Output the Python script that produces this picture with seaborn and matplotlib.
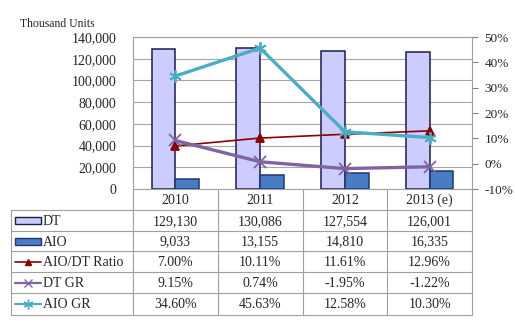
import matplotlib
matplotlib.use('Agg')
import matplotlib.pyplot as plt
import seaborn as sns
import pandas as pd
from matplotlib.patches import Rectangle
from matplotlib.lines import Line2D

years = ['2010', '2011', '2012', '2013 (e)']
dt_units = [129130, 130086, 127554, 126001]
aio_units = [9033, 13155, 14810, 16335]
aio_dt_ratio = [7.00, 10.11, 11.61, 12.96]
dt_gr = [9.15, 0.74, -1.95, -1.22]
aio_gr = [34.60, 45.63, 12.58, 10.30]
left_ticks = list(range(0, 140001, 20000))
right_ticks = list(range(-10, 51, 10))
unit_label = 'Thousand Units'

bar_series = ['DT', 'AIO']
line_series = ['AIO/DT Ratio', 'DT GR', 'AIO GR']
bar_fill = ['#CCCCFF', '#4A7CC4']
bar_edge = ['#1C1C48', '#1F3770']
line_colors = ['#8B0000', '#8064A2', '#4BACC6']
line_markers = ['^', 'x', (6, 2, 0)]
line_widths = [1.2, 2.4, 2.4]
marker_sizes = [6, 8, 9]

sns.set_theme(style='white')
plt.rcParams['font.family'] = ['Liberation Serif', 'DejaVu Serif']
plt.rcParams['axes.unicode_minus'] = False

W, H = 515, 330
fig = plt.figure(figsize=(W / 100, H / 100), dpi=100)
L, R, T, B = 133, 472, 37, 189
ax = fig.add_axes([L / W, 1 - B / H, (R - L) / W, (B - T) / H])

bars = pd.DataFrame({'Year': years * 2,
                     'Units': dt_units + aio_units,
                     'Series': ['DT'] * 4 + ['AIO'] * 4})
sns.barplot(data=bars, x='Year', y='Units', hue='Series', hue_order=bar_series,
            palette=bar_fill, width=0.56, linewidth=1.1, saturation=1,
            ax=ax, legend=False, errorbar=None)
for cont, ec in zip(ax.containers, bar_edge):
    for p in cont:
        p.set_edgecolor(ec)
        p.set_zorder(2)

ax.set_ylim(0, 140000)
ax.set_xlim(-0.5, 3.5)
ax.set_yticks(left_ticks)
ax.set_yticklabels([f'{v:,}' for v in left_ticks], fontsize=10)
ax.tick_params(axis='y', length=0, pad=12)
ax.set_xticks(range(4))
ax.set_xticklabels([])
ax.tick_params(axis='x', length=0)
ax.set_xlabel('')
ax.set_ylabel('')
ax.set_axisbelow(True)
ax.yaxis.grid(True, color='#A6A6A6', linewidth=0.8)
for s in ax.spines.values():
    s.set_color('#A0A0A0')
    s.set_linewidth(0.8)

ax2 = ax.twinx()
lines = pd.DataFrame({'Year': years * 3,
                      'Pct': aio_dt_ratio + dt_gr + aio_gr,
                      'Series': sum([[s] * 4 for s in line_series], [])})
sns.pointplot(data=lines, x='Year', y='Pct', hue='Series', hue_order=line_series,
              palette=line_colors, markers=line_markers, linestyles=['-', '-', '-'],
              errorbar=None, ax=ax2, legend=False)
for ln, lw, ms, c in zip(ax2.lines, line_widths, marker_sizes, line_colors):
    ln.set_linewidth(lw)
    ln.set_markersize(ms)
    ln.set_markeredgewidth(1.3)
    ln.set_markeredgecolor(c)
    ln.set_markerfacecolor(c)
ax2.set_xlim(-0.5, 3.5)
ax2.set_ylim(-10, 50)
ax2.set_yticks(right_ticks)
ax2.set_yticklabels([f'{v}%' for v in right_ticks], fontsize=9.5)
ax2.tick_params(axis='y', length=4, color='#808080', pad=5, width=0.8)
ax2.set_ylabel('')
ax2.set_xlabel('')
for s in ax2.spines.values():
    s.set_visible(False)

fig.text(20 / W, 1 - 24 / H, unit_label, fontsize=8.5, ha='left', va='center')

# data table under the plot
tax = fig.add_axes([0, 0, 1, 1])
tax.set_xlim(0, W)
tax.set_ylim(H, 0)
tax.axis('off')
tax.patch.set_alpha(0)
gc = '#A0A0A0'
xs = [L + i * (R - L) / 4 for i in range(5)]
row_y = [210, 231, 251, 272, 293, 315]
TL = 11
for x in xs:
    tax.plot([x, x], [B, row_y[-1]], color=gc, lw=0.8)
tax.plot([TL, TL], [row_y[0], row_y[-1]], color=gc, lw=0.8)
for y in row_y:
    tax.plot([TL, R], [y, y], color=gc, lw=0.8)
for i, yr in enumerate(years):
    tax.text((xs[i] + xs[i + 1]) / 2, (B + row_y[0]) / 2 + 1, yr, ha='center', va='center', fontsize=10)

rows = [
    ('DT', [f'{v:,}' for v in dt_units]),
    ('AIO', [f'{v:,}' for v in aio_units]),
    ('AIO/DT Ratio', [f'{v:.2f}%' for v in aio_dt_ratio]),
    ('DT GR', [f'{v:.2f}%' for v in dt_gr]),
    ('AIO GR', [f'{v:.2f}%' for v in aio_gr]),
]
for r, (name, vals) in enumerate(rows):
    yc = (row_y[r] + row_y[r + 1]) / 2
    for i, v in enumerate(vals):
        tax.text((xs[i] + xs[i + 1]) / 2, yc + 1, v, ha='center', va='center', fontsize=10)
    tax.text(43, yc + 1, name, ha='left', va='center', fontsize=10)
    if r < 2:
        tax.add_patch(Rectangle((15, yc - 3.5), 26, 7, facecolor=bar_fill[r],
                                edgecolor=bar_edge[r], lw=1.0))
    else:
        k = r - 2
        tax.add_line(Line2D([15, 41], [yc, yc], color=line_colors[k], lw=min(line_widths[k], 1.6)))
        tax.add_line(Line2D([28], [yc], marker=line_markers[k], color=line_colors[k],
                            markersize=marker_sizes[k] - 2, markeredgewidth=1.0))

fig.savefig('out.png', dpi=100)
